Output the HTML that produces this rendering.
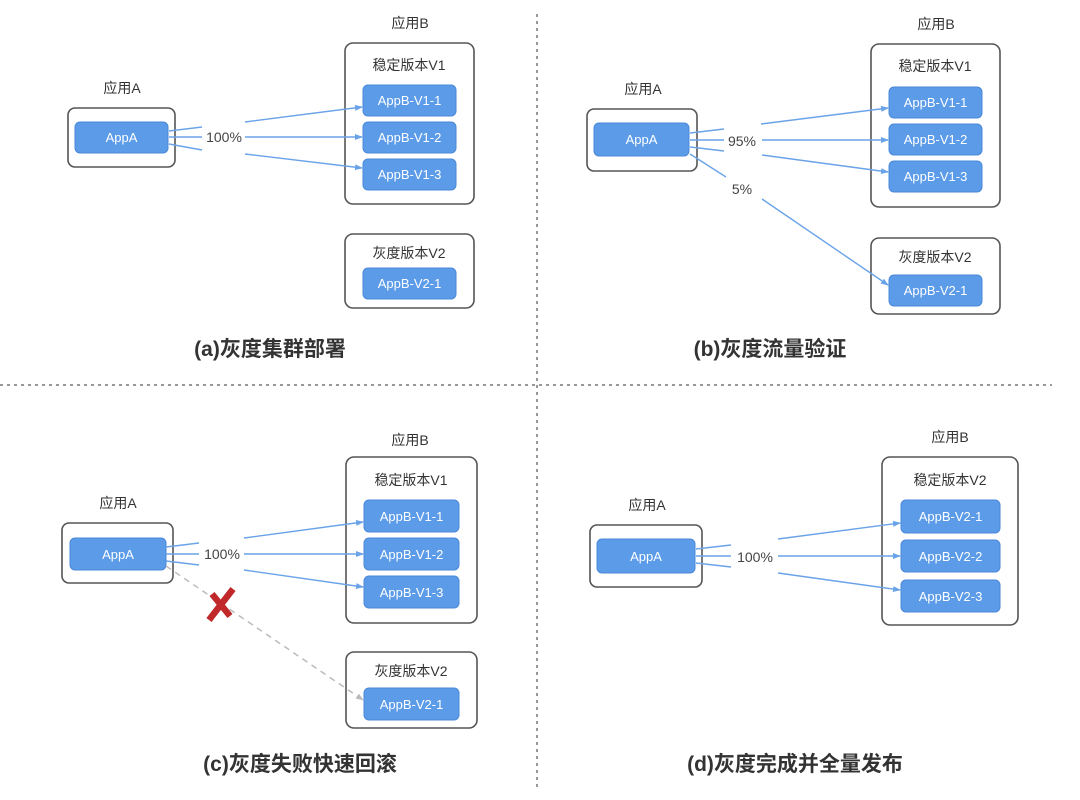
<!DOCTYPE html>
<html><head><meta charset="utf-8"><style>
html,body{margin:0;padding:0;background:#fff;}
svg{display:block;}
text{font-family:"Liberation Sans","Noto Sans CJK SC",sans-serif;}
.lbl{font-size:14px;fill:#333;text-anchor:middle;}
.in{font-size:13px;fill:#fff;text-anchor:middle;}
.pct{font-size:14px;fill:#444;text-anchor:middle;}
.ttl{font-size:21px;font-weight:bold;fill:#333;text-anchor:middle;}
.ob{fill:#fff;stroke:#555;stroke-width:1.6;}
.ib{fill:#5b9be8;stroke:#4a88d8;stroke-width:1;}
.ln{stroke:#6aa3e8;stroke-width:1.4;fill:none;}
</style></head><body>
<svg width="1080" height="800" viewBox="0 0 1080 800">
<defs>
<marker id="ar" markerWidth="8" markerHeight="8" refX="7" refY="4" orient="auto" markerUnits="userSpaceOnUse">
<path d="M0,1 L8,4 L0,7 z" fill="#6aa3e8"/></marker>
<marker id="ag" markerWidth="8" markerHeight="8" refX="7" refY="4" orient="auto" markerUnits="userSpaceOnUse">
<path d="M0,1 L8,4 L0,7 z" fill="#bbb"/></marker>
</defs>
<!-- dividers -->
<line x1="537" y1="14" x2="537" y2="788" stroke="#777" stroke-width="1.5" stroke-dasharray="3,4"/>
<line x1="0" y1="385" x2="1052" y2="385" stroke="#777" stroke-width="1.5" stroke-dasharray="3,4"/>

<!-- (a) -->
<text class="lbl" x="122" y="93">应用A</text>
<rect class="ob" x="68" y="108" width="107" height="59" rx="7"/>
<rect class="ib" x="75" y="122" width="93" height="31" rx="5"/>
<text class="in" x="121.5" y="142">AppA</text>
<text class="lbl" x="410" y="28">应用B</text>
<rect class="ob" x="345" y="43" width="129" height="161" rx="8"/>
<text class="lbl" x="409" y="70">稳定版本V1</text>
<rect class="ib" x="363" y="85" width="93" height="31" rx="5"/><text class="in" x="409.5" y="105">AppB-V1-1</text>
<rect class="ib" x="363" y="122" width="93" height="31" rx="5"/><text class="in" x="409.5" y="142">AppB-V1-2</text>
<rect class="ib" x="363" y="159" width="93" height="31" rx="5"/><text class="in" x="409.5" y="179">AppB-V1-3</text>
<rect class="ob" x="345" y="234" width="129" height="74" rx="8"/>
<text class="lbl" x="409" y="258">灰度版本V2</text>
<rect class="ib" x="363" y="268" width="93" height="31" rx="5"/><text class="in" x="409.5" y="288">AppB-V2-1</text>
<line class="ln" x1="169" y1="131" x2="202" y2="127"/>
<line class="ln" x1="169" y1="137" x2="202" y2="137"/>
<line class="ln" x1="169" y1="144" x2="202" y2="150"/>
<line class="ln" x1="245" y1="122" x2="362" y2="107" marker-end="url(#ar)"/>
<line class="ln" x1="245" y1="137" x2="362" y2="137" marker-end="url(#ar)"/>
<line class="ln" x1="245" y1="154" x2="362" y2="168" marker-end="url(#ar)"/>
<text class="pct" x="224" y="142">100%</text>
<text class="ttl" x="270" y="356">(a)灰度集群部署</text>

<!-- (b) -->
<text class="lbl" x="643" y="94">应用A</text>
<rect class="ob" x="587" y="109" width="110" height="62" rx="7"/>
<rect class="ib" x="594" y="123" width="95" height="33" rx="5"/>
<text class="in" x="641.5" y="144">AppA</text>
<text class="lbl" x="936" y="29">应用B</text>
<rect class="ob" x="871" y="44" width="129" height="163" rx="8"/>
<text class="lbl" x="935" y="71">稳定版本V1</text>
<rect class="ib" x="889" y="87" width="93" height="31" rx="5"/><text class="in" x="935.5" y="107">AppB-V1-1</text>
<rect class="ib" x="889" y="124" width="93" height="31" rx="5"/><text class="in" x="935.5" y="144">AppB-V1-2</text>
<rect class="ib" x="889" y="161" width="93" height="31" rx="5"/><text class="in" x="935.5" y="181">AppB-V1-3</text>
<rect class="ob" x="871" y="238" width="129" height="76" rx="8"/>
<text class="lbl" x="935" y="262">灰度版本V2</text>
<rect class="ib" x="889" y="275" width="93" height="31" rx="5"/><text class="in" x="935.5" y="295">AppB-V2-1</text>
<line class="ln" x1="690" y1="133" x2="724" y2="129"/>
<line class="ln" x1="690" y1="140" x2="724" y2="140"/>
<line class="ln" x1="690" y1="147" x2="724" y2="151"/>
<line class="ln" x1="690" y1="154" x2="726" y2="177"/>
<line class="ln" x1="761" y1="124" x2="888" y2="108" marker-end="url(#ar)"/>
<line class="ln" x1="762" y1="140" x2="888" y2="140" marker-end="url(#ar)"/>
<line class="ln" x1="762" y1="155" x2="888" y2="172" marker-end="url(#ar)"/>
<line class="ln" x1="762" y1="199" x2="888" y2="285" marker-end="url(#ar)"/>
<text class="pct" x="742" y="146">95%</text>
<text class="pct" x="742" y="194">5%</text>
<text class="ttl" x="770" y="356">(b)灰度流量验证</text>

<!-- (c) -->
<text class="lbl" x="118" y="508">应用A</text>
<rect class="ob" x="62" y="523" width="111" height="60" rx="7"/>
<rect class="ib" x="70" y="538" width="96" height="32" rx="5"/>
<text class="in" x="118" y="559">AppA</text>
<text class="lbl" x="410" y="445">应用B</text>
<rect class="ob" x="346" y="457" width="131" height="166" rx="8"/>
<text class="lbl" x="411" y="485">稳定版本V1</text>
<rect class="ib" x="364" y="500" width="95" height="32" rx="5"/><text class="in" x="411.5" y="521">AppB-V1-1</text>
<rect class="ib" x="364" y="538" width="95" height="32" rx="5"/><text class="in" x="411.5" y="559">AppB-V1-2</text>
<rect class="ib" x="364" y="576" width="95" height="32" rx="5"/><text class="in" x="411.5" y="597">AppB-V1-3</text>
<rect class="ob" x="346" y="652" width="131" height="76" rx="8"/>
<text class="lbl" x="411" y="676">灰度版本V2</text>
<rect class="ib" x="364" y="688" width="95" height="32" rx="5"/><text class="in" x="411.5" y="709">AppB-V2-1</text>
<line class="ln" x1="166" y1="547" x2="199" y2="543"/>
<line class="ln" x1="166" y1="554" x2="199" y2="554"/>
<line class="ln" x1="166" y1="561" x2="199" y2="565"/>
<line class="ln" x1="244" y1="538" x2="363" y2="522" marker-end="url(#ar)"/>
<line class="ln" x1="244" y1="554" x2="363" y2="554" marker-end="url(#ar)"/>
<line class="ln" x1="244" y1="570" x2="363" y2="587" marker-end="url(#ar)"/>
<line x1="166" y1="566" x2="363" y2="700" stroke="#bbb" stroke-width="1.5" stroke-dasharray="6,5" marker-end="url(#ag)"/>
<text class="pct" x="222" y="559">100%</text>
<g stroke="#c0282a" stroke-width="6.5" stroke-linecap="butt">
<line x1="209" y1="620" x2="233" y2="589"/>
<line x1="212" y1="594" x2="230" y2="616"/>
</g>
<text class="ttl" x="300" y="771">(c)灰度失败快速回滚</text>

<!-- (d) -->
<text class="lbl" x="647" y="510">应用A</text>
<rect class="ob" x="590" y="525" width="112" height="62" rx="7"/>
<rect class="ib" x="597" y="539" width="98" height="34" rx="5"/>
<text class="in" x="646" y="561">AppA</text>
<text class="lbl" x="950" y="442">应用B</text>
<rect class="ob" x="882" y="457" width="136" height="168" rx="8"/>
<text class="lbl" x="950" y="485">稳定版本V2</text>
<rect class="ib" x="901" y="500" width="99" height="33" rx="5"/><text class="in" x="950.5" y="521">AppB-V2-1</text>
<rect class="ib" x="901" y="540" width="99" height="32" rx="5"/><text class="in" x="950.5" y="561">AppB-V2-2</text>
<rect class="ib" x="901" y="580" width="99" height="32" rx="5"/><text class="in" x="950.5" y="601">AppB-V2-3</text>
<line class="ln" x1="696" y1="549" x2="731" y2="545"/>
<line class="ln" x1="696" y1="556" x2="731" y2="556"/>
<line class="ln" x1="696" y1="563" x2="731" y2="567"/>
<line class="ln" x1="778" y1="539" x2="900" y2="523" marker-end="url(#ar)"/>
<line class="ln" x1="778" y1="556" x2="900" y2="556" marker-end="url(#ar)"/>
<line class="ln" x1="778" y1="573" x2="900" y2="590" marker-end="url(#ar)"/>
<text class="pct" x="755" y="562">100%</text>
<text class="ttl" x="795" y="771">(d)灰度完成并全量发布</text>
</svg>
</body></html>
